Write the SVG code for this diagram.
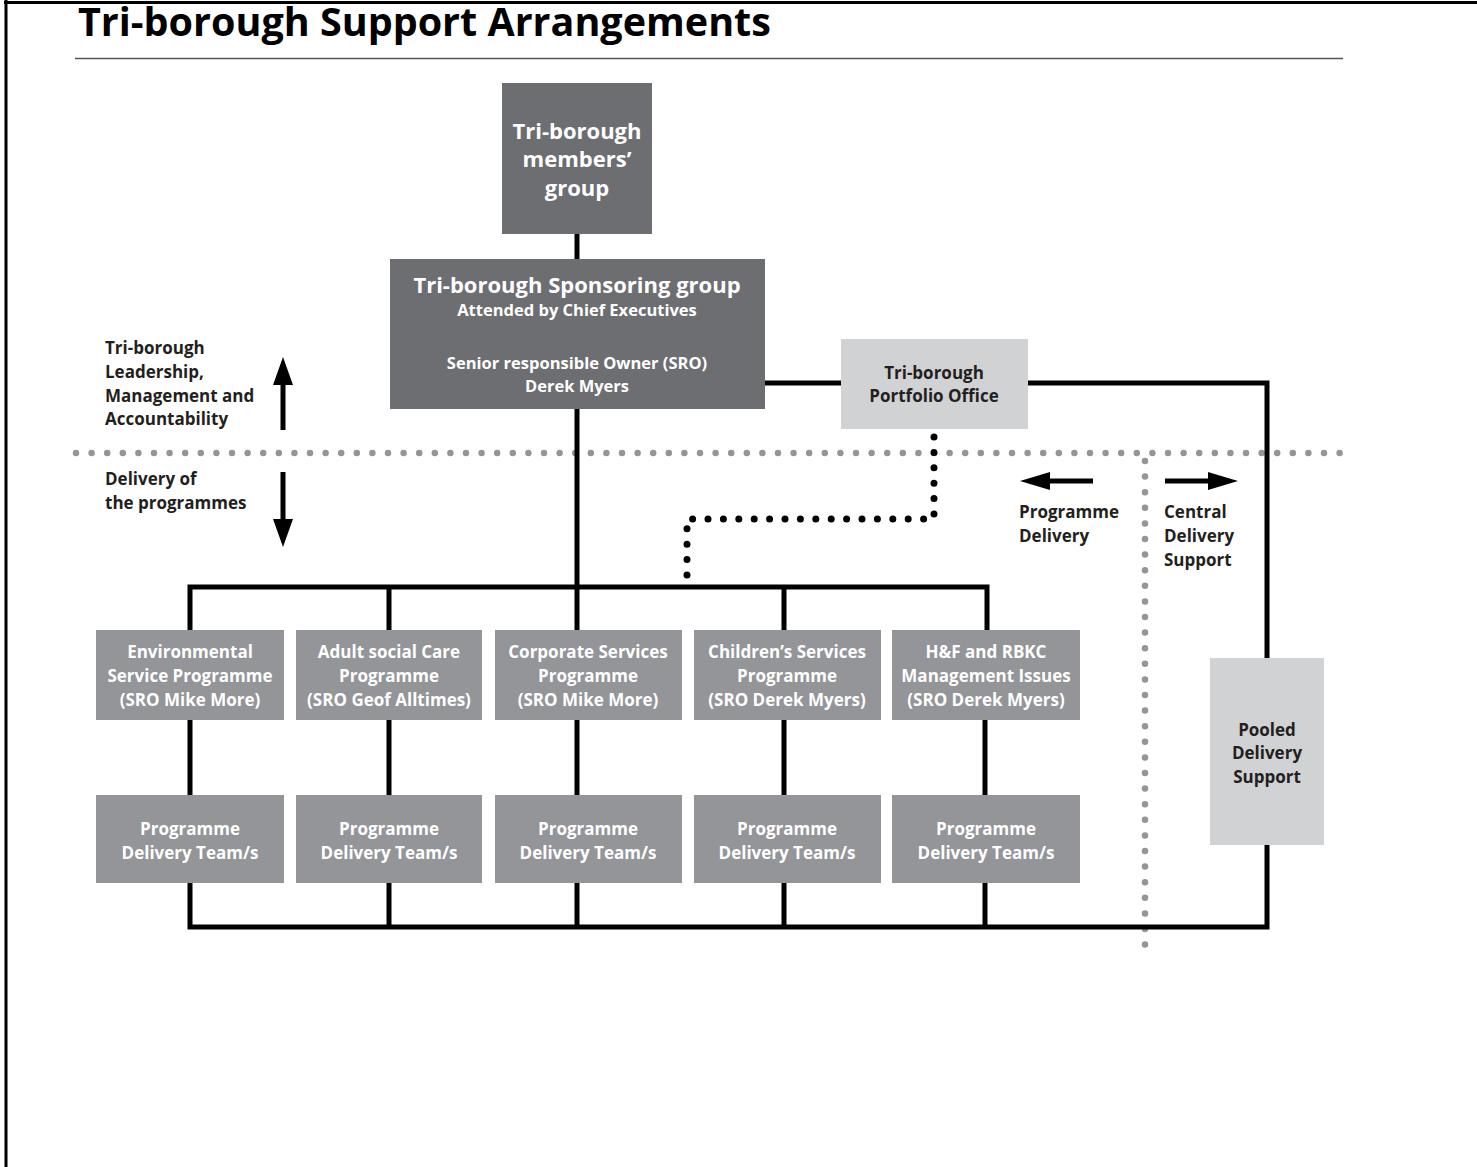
<svg xmlns="http://www.w3.org/2000/svg" width="1477" height="1167" viewBox="0 0 1477 1167">
<style>
.t{font-family:"Open Sans",Lato,"Liberation Sans",sans-serif;font-weight:bold;text-anchor:middle}
.w{fill:#ffffff}
.d{fill:#231f20}
.l{font-family:"Open Sans",Lato,"Liberation Sans",sans-serif;font-weight:bold;fill:#231f20;font-size:17px}
.dark{fill:#6d6e71}
.mid{fill:#939598}
.light{fill:#d1d2d4}
.ln{stroke:#000;stroke-width:5;fill:none}
.gdot{stroke:#939598;stroke-width:6.5;stroke-linecap:round;stroke-dasharray:0 15.6;fill:none}
.bdot{stroke:#000;stroke-width:7;stroke-linecap:round;stroke-dasharray:0 15.4;fill:none}
</style>
<rect width="1477" height="1167" fill="#fff"/>
<path d="M6 0V1167M4 2.5H1477" stroke="#000" stroke-width="3" fill="none"/>
<text x="78" y="36" font-family="'Open Sans',Lato,'Liberation Sans',sans-serif" font-weight="bold" font-size="39.5" fill="#000">Tri-borough Support Arrangements</text>
<line x1="75" y1="58.5" x2="1343" y2="58.5" stroke="#555" stroke-width="1.5"/>

<g id="dividers">
<path class="gdot" d="M76 453H1345"/>
<path class="gdot" d="M1145 461V945"/>
</g>

<g id="connectors">
<path class="ln" d="M577 234V259"/>
<path class="ln" d="M577 409V587"/>
<path class="ln" d="M190 630V587H987V630M389 587V630M577 587V630M784 587V630"/>
<path class="ln" d="M190 720V795M389 720V795M577 720V795M784 720V795M985 720V795"/>
<path class="ln" d="M190 883V927H1267V845M389 883V927M577 883V927M784 883V927M985 883V927"/>
<path class="ln" d="M765 383H841"/>
<path class="ln" d="M1028 383H1267V658"/>
<path class="bdot" d="M934 437V519H687V582"/>
</g>

<g id="arrows">
<path d="M283 430V380" stroke="#000" stroke-width="5"/>
<polygon points="283,357 273,385 293,385" fill="#000"/>
<path d="M283 472V522" stroke="#000" stroke-width="5"/>
<polygon points="283,547 273,519 293,519" fill="#000"/>
<path d="M1093 481H1045" stroke="#000" stroke-width="5"/>
<polygon points="1020,481 1050,472 1050,490" fill="#000"/>
<path d="M1165 481H1212" stroke="#000" stroke-width="5"/>
<polygon points="1238,481 1208,472 1208,490" fill="#000"/>
</g>

<g id="labels">
<text class="l" x="105" y="354">Tri-borough</text>
<text class="l" x="105" y="378">Leadership,</text>
<text class="l" x="105" y="402">Management and</text>
<text class="l" x="105" y="425">Accountability</text>
<text class="l" x="105" y="485">Delivery of</text>
<text class="l" x="105" y="509">the programmes</text>
<text class="l" x="1019" y="518">Programme</text>
<text class="l" x="1019" y="542">Delivery</text>
<text class="l" x="1164" y="518">Central</text>
<text class="l" x="1164" y="542">Delivery</text>
<text class="l" x="1164" y="566">Support</text>
</g>

<g id="members">
<rect class="dark" x="502" y="83" width="150" height="151"/>
<text class="t w" font-size="22" x="577" y="139">Tri-borough</text>
<text class="t w" font-size="22" x="577" y="167">members’</text>
<text class="t w" font-size="22" x="577" y="196">group</text>
</g>

<g id="sponsoring">
<rect class="dark" x="390" y="259" width="375" height="150"/>
<text class="t w" font-size="22" x="577" y="293">Tri-borough Sponsoring group</text>
<text class="t w" font-size="16.5" x="577" y="316">Attended by Chief Executives</text>
<text class="t w" font-size="16.5" x="577" y="369">Senior responsible Owner (SRO)</text>
<text class="t w" font-size="16.5" x="577" y="392">Derek Myers</text>
</g>

<g id="portfolio">
<rect class="light" x="841" y="339" width="187" height="90"/>
<text class="t d" font-size="17" x="934" y="379">Tri-borough</text>
<text class="t d" font-size="17" x="934" y="402">Portfolio Office</text>
</g>

<g id="pooled">
<rect class="light" x="1210" y="658" width="114" height="187"/>
<text class="t d" font-size="17" x="1267" y="736">Pooled</text>
<text class="t d" font-size="17" x="1267" y="759">Delivery</text>
<text class="t d" font-size="17" x="1267" y="783">Support</text>
</g>

<g id="env">
<rect class="mid" x="96" y="630" width="188" height="90"/>
<text class="t w" font-size="17" x="190" y="658">Environmental</text>
<text class="t w" font-size="17" x="190" y="682">Service Programme</text>
<text class="t w" font-size="17" x="190" y="706">(SRO Mike More)</text>
</g>
<g id="adult">
<rect class="mid" x="296" y="630" width="186" height="90"/>
<text class="t w" font-size="17" x="389" y="658">Adult social Care</text>
<text class="t w" font-size="17" x="389" y="682">Programme</text>
<text class="t w" font-size="17" x="389" y="706">(SRO Geof Alltimes)</text>
</g>
<g id="corporate">
<rect class="mid" x="495" y="630" width="187" height="90"/>
<text class="t w" font-size="17" x="588" y="658">Corporate Services</text>
<text class="t w" font-size="17" x="588" y="682">Programme</text>
<text class="t w" font-size="17" x="588" y="706">(SRO Mike More)</text>
</g>
<g id="children">
<rect class="mid" x="694" y="630" width="187" height="90"/>
<text class="t w" font-size="17" x="787" y="658">Children’s Services</text>
<text class="t w" font-size="17" x="787" y="682">Programme</text>
<text class="t w" font-size="17" x="787" y="706">(SRO Derek Myers)</text>
</g>
<g id="hf">
<rect class="mid" x="892" y="630" width="188" height="90"/>
<text class="t w" font-size="17" x="986" y="658">H&amp;F and RBKC</text>
<text class="t w" font-size="17" x="986" y="682">Management Issues</text>
<text class="t w" font-size="17" x="986" y="706">(SRO Derek Myers)</text>
</g>

<g id="team1"><rect class="mid" x="96" y="795" width="188" height="88"/><text class="t w" font-size="17" x="190" y="835">Programme</text><text class="t w" font-size="17" x="190" y="859">Delivery Team/s</text></g>
<g id="team2"><rect class="mid" x="296" y="795" width="186" height="88"/><text class="t w" font-size="17" x="389" y="835">Programme</text><text class="t w" font-size="17" x="389" y="859">Delivery Team/s</text></g>
<g id="team3"><rect class="mid" x="495" y="795" width="187" height="88"/><text class="t w" font-size="17" x="588" y="835">Programme</text><text class="t w" font-size="17" x="588" y="859">Delivery Team/s</text></g>
<g id="team4"><rect class="mid" x="694" y="795" width="187" height="88"/><text class="t w" font-size="17" x="787" y="835">Programme</text><text class="t w" font-size="17" x="787" y="859">Delivery Team/s</text></g>
<g id="team5"><rect class="mid" x="892" y="795" width="188" height="88"/><text class="t w" font-size="17" x="986" y="835">Programme</text><text class="t w" font-size="17" x="986" y="859">Delivery Team/s</text></g>
</svg>
